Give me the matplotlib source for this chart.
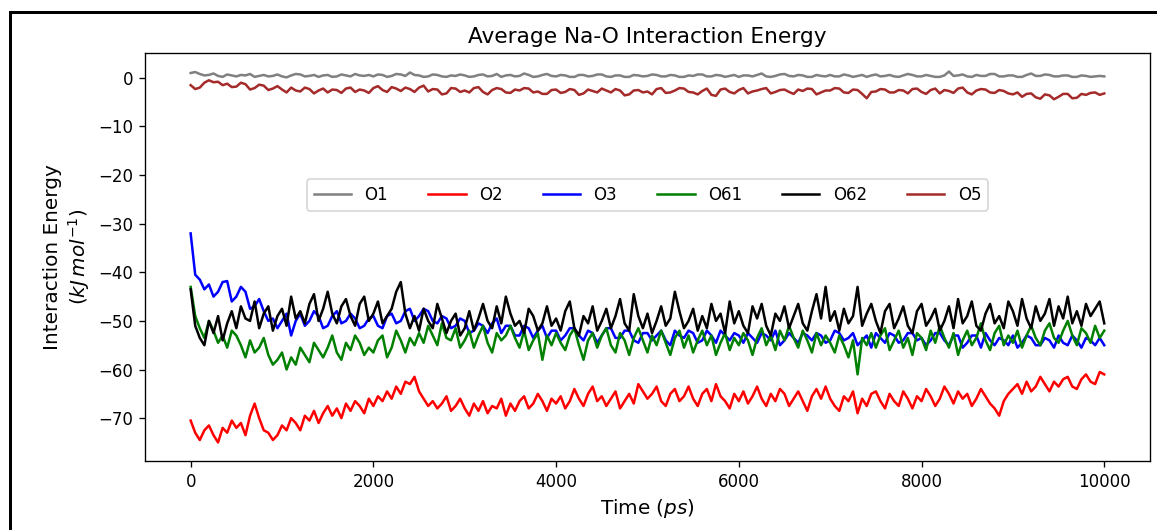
import matplotlib
matplotlib.use("Agg")
import matplotlib.pyplot as plt
from matplotlib.lines import Line2D

# simulation time (ps), one sample every 50 ps
time = list(range(0, 10001, 50))

o1 = [1.0, 1.2, 0.8, 0.5, 0.6, 0.9, 0.4, 0.2, 0.7, 0.5,
      0.3, 0.6, 0.5, 0.8, 0.2, 0.4, 0.6, 0.3, 0.4, 0.7,
      0.3, 0.1, 0.5, 0.8, 0.7, 0.3, 0.4, 0.6, 0.2, 0.5,
      0.6, 0.2, 0.3, 0.7, 0.5, 0.3, 0.8, 0.5, 0.4, 0.6,
      0.3, 0.7, 0.6, 0.2, 0.4, 0.8, 0.7, 0.4, 1.1, 0.6,
      0.5, 0.2, 0.3, 0.7, 0.6, 0.3, 0.2, 0.5, 0.4, 0.7,
      0.5, 0.2, 0.3, 0.6, 0.7, 0.3, 0.4, 0.8, 0.2, 0.5,
      0.6, 0.3, 0.4, 0.9, 0.6, 0.2, 0.3, 0.6, 0.8, 0.4,
      0.3, 0.6, 0.5, 0.2, 0.2, 0.6, 0.6, 0.3, 0.4, 0.7,
      0.7, 0.3, 0.2, 0.5, 0.5, 0.2, 0.2, 0.6, 0.5, 0.3,
      0.4, 0.7, 0.6, 0.3, 0.3, 0.6, 0.5, 0.2, 0.2, 0.5,
      0.4, 0.7, 0.7, 0.3, 0.3, 0.6, 0.5, 0.2, 0.4, 0.6,
      0.2, 0.5, 0.5, 0.3, 0.6, 0.9, 0.3, 0.2, 0.4, 0.7,
      0.8, 0.4, 0.3, 0.6, 0.5, 0.2, 0.2, 0.6, 0.4, 0.3,
      0.6, 0.3, 0.3, 0.7, 0.5, 0.2, 0.4, 0.6, 0.2, 0.5,
      0.7, 0.3, 0.4, 0.6, 0.3, 0.2, 0.5, 0.8, 0.6, 0.3,
      0.3, 0.6, 0.4, 0.2, 0.2, 0.5, 1.3, 0.4, 0.5, 0.7,
      0.3, 0.2, 0.6, 0.4, 0.4, 0.8, 0.8, 0.3, 0.3, 0.5,
      0.5, 0.2, 0.2, 0.6, 0.9, 0.4, 0.4, 0.7, 0.6, 0.3,
      0.3, 0.5, 0.5, 0.2, 0.2, 0.5, 0.4, 0.2, 0.3, 0.4,
      0.3]

o2 = [-70.5, -73.0, -74.5, -72.5, -71.5, -73.5, -75.0, -72.0, -73.0, -70.5,
      -72.0, -71.0, -73.5, -69.5, -67.0, -70.0, -72.5, -73.0, -74.5, -73.5,
      -71.5, -72.5, -70.0, -71.0, -72.5, -69.5, -70.5, -68.5, -71.0, -69.0,
      -67.5, -69.5, -68.0, -70.0, -67.0, -68.5, -66.5, -67.5, -69.0, -66.0,
      -67.5, -65.5, -66.5, -64.5, -66.0, -63.5, -65.0, -62.5, -63.0, -61.5,
      -64.5, -66.0, -67.5, -66.5, -68.0, -67.0, -65.5, -68.5, -67.5, -66.0,
      -68.0, -69.5, -67.0, -68.5, -66.5, -69.0, -67.5, -68.0, -66.0, -69.5,
      -67.0, -68.5, -66.5, -65.5, -68.0, -67.0, -65.0, -66.5, -68.5, -66.0,
      -67.0, -65.5, -68.0, -66.5, -64.0, -66.0, -67.5, -65.0, -63.5, -66.5,
      -65.5, -67.5, -66.0, -64.5, -68.0, -66.5, -65.0, -67.0, -63.0, -64.5,
      -66.0, -65.0, -63.5, -66.5, -67.5, -65.0, -64.0, -66.5, -65.5, -63.5,
      -66.0, -67.5, -65.0, -64.0, -66.5, -63.0, -65.5, -66.5, -68.0, -65.0,
      -66.5, -64.5, -67.0, -65.5, -63.5, -66.0, -67.5, -65.0, -66.5, -64.0,
      -65.0, -67.5, -66.0, -64.5, -66.5, -68.5, -65.5, -64.0, -66.0, -63.5,
      -66.0, -67.5, -68.5, -65.5, -66.5, -64.5, -69.0, -66.0, -67.5, -65.0,
      -64.5, -66.5, -68.0, -65.0, -66.5, -67.5, -64.5, -66.0, -68.0, -65.5,
      -66.5, -64.0, -65.5, -67.5, -66.0, -63.5, -65.0, -67.0, -64.5, -66.0,
      -65.0, -67.5, -66.0, -64.0, -65.5, -67.0, -68.0, -69.5, -66.5, -65.0,
      -64.0, -63.0, -65.0, -62.5, -64.5, -63.5, -61.5, -63.0, -64.5, -62.5,
      -63.5, -62.0, -61.5, -63.5, -64.0, -62.0, -61.0, -62.5, -63.0, -60.5,
      -61.0]

o3 = [-32.0, -40.5, -41.5, -43.5, -42.5, -45.0, -44.0, -42.0, -41.8, -46.0,
      -45.0, -43.0, -44.0, -47.5, -47.0, -45.5, -48.0, -50.0, -49.5, -51.5,
      -50.0, -48.5, -53.0, -50.0, -48.5, -51.0, -50.0, -48.0, -49.0, -51.5,
      -51.0, -49.0, -48.0, -50.5, -50.0, -48.5, -49.5, -51.5, -51.0, -49.5,
      -49.0, -51.0, -51.5, -49.0, -48.5, -50.5, -50.0, -48.0, -47.5, -50.0,
      -49.0, -47.5, -48.0, -50.0, -50.5, -49.0, -49.5, -51.5, -51.0, -49.5,
      -50.0, -52.5, -52.0, -50.5, -51.0, -52.5, -50.5, -49.5, -52.5, -51.0,
      -51.0, -53.0, -53.0, -51.0, -51.5, -53.5, -52.0, -51.0, -53.5, -52.0,
      -52.0, -54.0, -53.0, -51.5, -51.5, -53.0, -54.0, -52.0, -52.5, -54.5,
      -53.0, -51.5, -51.5, -53.5, -53.5, -52.0, -52.0, -54.0, -54.5, -52.5,
      -52.5, -54.0, -53.0, -52.0, -54.0, -55.0, -52.0, -53.0, -53.5, -52.0,
      -52.5, -54.5, -54.0, -52.0, -53.0, -54.5, -52.0, -53.0, -54.0, -52.5,
      -53.0, -54.5, -52.5, -53.5, -54.5, -52.5, -53.0, -54.0, -52.0, -55.0,
      -54.0, -52.5, -53.5, -54.5, -52.5, -53.0, -54.0, -52.5, -53.0, -54.5,
      -54.0, -52.0, -52.5, -54.0, -53.5, -52.5, -55.0, -54.0, -53.0, -55.5,
      -52.5, -53.5, -54.5, -52.5, -53.0, -54.5, -54.0, -52.5, -52.5, -54.0,
      -53.5, -55.0, -54.0, -52.5, -52.5, -54.0, -55.0, -53.0, -53.0, -55.5,
      -54.5, -53.0, -53.0, -55.5, -52.5, -54.0, -55.0, -53.5, -54.0, -55.0,
      -53.0, -55.5, -54.5, -53.0, -53.5, -55.0, -55.0, -53.5, -54.0, -55.5,
      -53.0, -54.5, -55.0, -53.0, -54.0, -55.5, -53.5, -54.0, -55.0, -53.5,
      -55.0]

o61 = [-43.0, -49.0, -51.5, -53.5, -50.0, -52.0, -54.5, -53.0, -55.5, -52.0,
       -53.0, -55.0, -57.5, -54.0, -56.5, -55.5, -53.5, -57.0, -59.0, -58.0,
       -56.5, -60.0, -57.5, -59.0, -55.5, -57.0, -58.5, -54.5, -56.0, -57.5,
       -55.5, -53.0, -56.5, -58.0, -54.5, -56.0, -53.0, -54.5, -57.0, -55.5,
       -56.5, -54.0, -53.0, -57.5, -55.5, -52.0, -54.0, -56.5, -53.5, -55.0,
       -52.5, -54.5, -51.0, -53.0, -55.0, -50.5, -53.5, -54.0, -51.5, -55.5,
       -54.0, -52.0, -55.5, -53.0, -51.0, -54.5, -56.5, -52.5, -54.0, -53.0,
       -51.0, -53.5, -55.5, -52.0, -56.0, -54.0, -52.5, -58.0, -53.0, -55.0,
       -52.5, -54.5, -56.0, -53.0, -51.5, -55.0, -58.0, -54.0, -52.5, -55.5,
       -53.0, -51.5, -55.0, -56.5, -52.5, -54.0, -57.0, -53.5, -51.5, -54.0,
       -56.5, -53.0, -55.0, -52.0, -54.5, -57.0, -53.5, -52.0, -55.5, -53.0,
       -56.5, -54.0, -52.0, -55.0, -53.0, -57.0, -54.5, -52.5, -56.0, -53.5,
       -55.0, -52.5, -54.0, -57.0, -53.5, -51.5, -55.0, -53.0, -56.0, -52.0,
       -54.0, -51.0, -53.5, -55.5, -52.0, -54.0, -56.5, -52.5, -55.0, -53.0,
       -54.5, -56.5, -53.0, -55.0, -57.5, -54.0, -61.0, -53.5, -55.0, -52.5,
       -55.5, -53.0, -51.5, -56.0, -54.0, -52.0, -55.5, -53.5, -57.0, -52.5,
       -53.5, -56.0, -52.0, -54.5, -51.0, -53.5, -55.5, -52.5, -57.0, -54.0,
       -52.0, -55.0, -53.5, -50.5, -54.0, -56.0, -52.5, -51.0, -55.0, -53.0,
       -54.5, -52.0, -55.5, -53.0, -51.0, -53.5, -55.0, -52.0, -50.5, -53.5,
       -54.5, -52.0, -50.0, -53.0, -55.0, -51.5, -52.5, -54.5, -51.0, -53.5,
       -52.0]

o62 = [-43.5, -51.0, -53.5, -55.0, -50.0, -52.5, -49.0, -54.0, -50.5, -48.0,
       -51.5, -47.0, -49.5, -50.0, -46.0, -51.5, -48.5, -47.0, -52.0, -49.0,
       -47.5, -51.0, -45.0, -49.5, -48.0, -50.5, -46.5, -44.5, -50.0, -47.5,
       -44.0, -48.5, -50.5, -47.0, -45.5, -49.0, -51.0, -46.5, -45.0, -50.0,
       -48.5, -46.0, -50.5, -49.0, -47.5, -44.0, -42.0, -48.5, -51.5, -49.0,
       -52.0, -47.5, -50.0, -51.5, -46.5, -49.5, -52.5, -50.0, -48.5, -53.0,
       -51.5, -48.0, -52.0, -49.5, -46.5, -50.0, -51.5, -47.0, -50.5, -45.0,
       -48.5, -51.0, -50.0, -52.5, -47.5, -49.0, -52.0, -50.5, -47.0, -51.0,
       -49.5, -52.0, -48.0, -46.0, -51.5, -53.0, -49.0, -50.5, -47.0, -52.0,
       -50.0, -47.5, -51.5, -49.0, -45.5, -50.5, -52.0, -44.5, -49.0, -51.5,
       -48.5, -52.5, -50.0, -47.0, -51.0, -49.5, -44.0, -48.0, -51.5, -50.0,
       -47.5, -52.0, -49.0, -51.5, -46.5, -50.0, -48.5, -52.5, -46.0, -50.5,
       -48.0, -51.0, -52.5, -47.0, -49.5, -46.5, -51.0, -53.0, -48.5, -50.0,
       -47.0, -51.5, -49.0, -46.5, -50.5, -52.0, -48.0, -44.5, -49.5, -43.0,
       -50.0, -48.0, -52.0, -47.5, -50.5, -49.0, -43.0, -51.0, -48.5, -46.5,
       -50.0, -52.5, -48.0, -46.5, -51.5, -49.5, -47.0, -51.0, -52.5, -48.0,
       -46.5, -51.0, -49.5, -47.5, -52.0, -50.0, -47.0, -51.5, -45.5, -50.5,
       -49.0, -46.0, -51.0, -52.0, -48.5, -46.5, -50.5, -49.0, -51.5, -46.0,
       -48.0, -51.0, -45.5, -49.5, -51.5, -47.0, -50.0, -48.5, -45.5, -51.0,
       -47.0, -49.5, -45.0, -50.5, -48.0, -51.0, -46.5, -49.0, -47.5, -46.0,
       -50.5]

o5 = [-1.5, -2.3, -2.0, -1.0, -0.5, -0.9, -0.8, -1.5, -1.2, -1.9,
      -1.8, -1.0, -1.3, -2.4, -2.1, -1.4, -1.6, -2.5, -2.2, -1.7,
      -2.4, -3.0, -2.0, -2.6, -2.8, -2.0, -2.3, -3.2, -2.6, -2.2,
      -3.0, -2.4, -2.5, -3.1, -2.2, -2.0, -2.9, -2.4, -2.6, -3.1,
      -2.1, -1.7, -2.5, -2.9, -1.9, -2.2, -2.7, -2.0, -2.3, -2.9,
      -2.0, -1.6, -2.8, -2.3, -2.4, -3.4, -3.2, -2.1, -2.2, -2.9,
      -2.6, -3.0, -2.1, -1.9, -2.9, -3.4, -2.5, -2.1, -2.3, -3.0,
      -3.1, -2.4, -2.6, -2.1, -2.2, -3.0, -2.8, -3.3, -3.3, -2.5,
      -2.4, -3.1, -2.9, -2.3, -2.5, -3.5, -3.2, -2.4, -2.7, -3.0,
      -2.2, -2.6, -3.0, -2.3, -2.6, -3.6, -3.4, -2.6, -2.5, -3.0,
      -2.8, -3.4, -2.3, -2.1, -3.1, -3.0, -2.6, -2.1, -2.2, -2.9,
      -3.0, -3.4, -2.7, -2.2, -3.5, -3.7, -2.4, -2.2, -2.9, -3.2,
      -2.5, -2.1, -3.2, -2.8, -2.6, -2.3, -2.1, -3.2, -2.9, -2.5,
      -2.4, -2.9, -3.3, -2.4, -2.7, -2.2, -2.3, -3.4, -3.0, -2.6,
      -2.6, -2.1, -2.2, -3.0, -3.1, -2.4, -2.5, -3.3, -4.2, -2.9,
      -2.8, -2.3, -2.4, -3.0, -3.0, -2.5, -2.6, -3.2, -2.3, -2.2,
      -2.9, -3.3, -2.5, -2.2, -3.2, -2.5, -2.7, -3.1, -2.2, -2.0,
      -3.0, -3.4, -2.6, -2.3, -2.4, -3.0, -3.1, -2.5, -2.7, -3.2,
      -3.4, -3.0, -3.9, -3.3, -3.2, -4.0, -4.3, -3.4, -3.6, -4.4,
      -3.9, -3.3, -3.3, -4.2, -4.1, -3.3, -3.5, -3.1, -3.0, -3.5,
      -3.2]

series = [("O1", o1, "grey"), ("O2", o2, "red"), ("O3", o3, "blue"),
          ("O61", o61, "green"), ("O62", o62, "black"), ("O5", o5, "brown")]

fig = plt.figure(figsize=(1157 / 120, 530 / 120), dpi=120)
ax = fig.add_axes([0.1253, 0.1302, 0.8686, 0.7698])

for name, vals, col in series:
    assert len(vals) == len(time), name
    ax.plot(time, vals, color=col, lw=1.5, label=name)

ax.set_title("Average Na-O Interaction Energy", fontsize=13)
ax.set_xlabel("Time ($ps$)", fontsize=12)
ax.set_ylabel("Interaction Energy\n($kJ\\,mol^{-1}$)", fontsize=12)
ax.set_xticks([0, 2000, 4000, 6000, 8000, 10000])
ax.legend(ncol=6, loc="center", bbox_to_anchor=(0.5, 0.652), fontsize=10,
          handlelength=2.25, columnspacing=2.4)

# frame lines along the top and left edge
fig.add_artist(Line2D([10 / 1157, 1.0], [1 - 12 / 530, 1 - 12 / 530], color="black", lw=1.8))
fig.add_artist(Line2D([10 / 1157, 10 / 1157], [0.0, 1 - 12 / 530], color="black", lw=1.8))

fig.savefig("out.png", dpi=120)
